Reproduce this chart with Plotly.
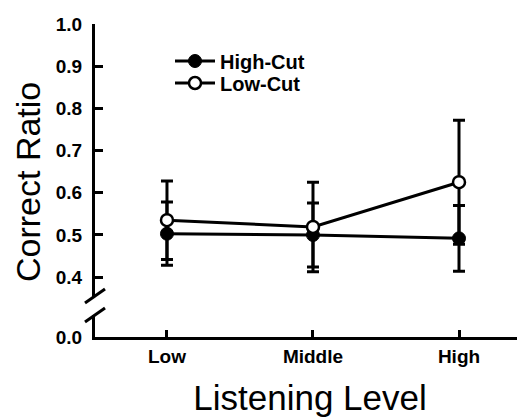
import plotly.graph_objects as go

levels = ["Low", "Middle", "High"]
x_pos = [0, 1, 2]
high_cut = [0.503, 0.500, 0.492]
high_cut_err = [0.075, 0.076, 0.078]
low_cut = [0.535, 0.519, 0.625]
low_cut_err = [0.093, 0.106, 0.147]
y_ticks = [0.4, 0.5, 0.6, 0.7, 0.8, 0.9, 1.0]
y_ticktext = ["0.4", "0.5", "0.6", "0.7", "0.8", "0.9", "1.0"]

FONT = "Liberation Sans, Arial, sans-serif"

# page body has an 8px margin; figure coordinates are offset accordingly
OFF = 8
W, H = 525 - OFF, 417 - OFF
L, T = 95 - OFF, 24 - OFF
R, B = 0, 417 - 337
pw, ph = W - L - R, H - T - B

def px(x):
    return (x - OFF - L) / pw

def py(y):
    return (H - B - (y - OFF)) / ph

fig = go.Figure()
# placeholder so the lower (0.0) axis segment and x axis are drawn
fig.add_trace(go.Scatter(x=[], y=[], xaxis="x", yaxis="y", showlegend=False, hoverinfo="skip"))
fig.add_trace(go.Scatter(
    x=x_pos, y=high_cut, name="High-Cut", mode="lines+markers",
    line=dict(color="black", width=3),
    marker=dict(symbol="circle", size=13, color="black", line=dict(color="black", width=1)),
    error_y=dict(type="data", array=high_cut_err, visible=True, color="black", thickness=3, width=6),
    xaxis="x", yaxis="y2", legend="legend",
))
fig.add_trace(go.Scatter(
    x=x_pos, y=low_cut, name="Low-Cut", mode="lines+markers",
    line=dict(color="black", width=3),
    marker=dict(symbol="circle", size=12, color="white", line=dict(color="black", width=2.5)),
    error_y=dict(type="data", array=low_cut_err, visible=True, color="black", thickness=3, width=6),
    xaxis="x", yaxis="y2", legend="legend2",
))

shapes = []
for (x0, y0, x1, y1) in [(85, 303, 105, 289), (85, 322, 105, 308)]:
    shapes.append(dict(type="line", xref="paper", yref="paper",
                       x0=px(x0), y0=py(y0), x1=px(x1), y1=py(y1),
                       line=dict(color="black", width=3)))

leg_common = dict(xanchor="left", yanchor="middle", bgcolor="rgba(0,0,0,0)",
                  font=dict(size=20, weight="bold"), itemwidth=40, borderwidth=0)

fig.update_layout(
    width=W, height=H,
    margin=dict(l=L, r=R, t=T, b=B, autoexpand=False),
    paper_bgcolor="white", plot_bgcolor="white",
    font=dict(family=FONT, color="black"),
    showlegend=True,
    legend=dict(x=px(170), y=py(61), **leg_common),
    legend2=dict(x=px(170), y=py(83), **leg_common),
    xaxis=dict(
        range=[-0.493, 2.452], tickvals=x_pos, ticktext=levels,
        showline=True, linecolor="black", linewidth=3,
        ticks="inside", ticklen=7, tickwidth=3, tickcolor="black",
        showgrid=False, zeroline=False, anchor="y", automargin=False,
        tickfont=dict(size=19, weight="bold"),
        title=dict(text="Listening Level", font=dict(size=35), standoff=23),
    ),
    yaxis=dict(
        domain=[0, py(315)], range=[0, 0.1], tickvals=[0], ticktext=["0.0"],
        showline=True, linecolor="black", linewidth=3,
        ticks="inside", ticklen=8, tickwidth=3, tickcolor="black",
        showgrid=False, zeroline=False, anchor="x", automargin=False,
        tickfont=dict(size=19, weight="bold"), ticklabelstandoff=6,
    ),
    yaxis2=dict(
        domain=[py(297), 1], range=[0.353, 1.0], tickvals=y_ticks, ticktext=y_ticktext,
        showline=True, linecolor="black", linewidth=3,
        ticks="inside", ticklen=8, tickwidth=3, tickcolor="black",
        showgrid=False, zeroline=False, anchor="x", automargin=False,
        tickfont=dict(size=19, weight="bold"), ticklabelstandoff=6,
    ),
    annotations=[dict(
        text="Correct Ratio", textangle=-90, showarrow=False,
        xref="paper", yref="paper", x=px(28), y=py(182),
        xanchor="center", yanchor="middle", font=dict(size=34),
    )],
    shapes=shapes,
)

fig.write_html("out.html")
